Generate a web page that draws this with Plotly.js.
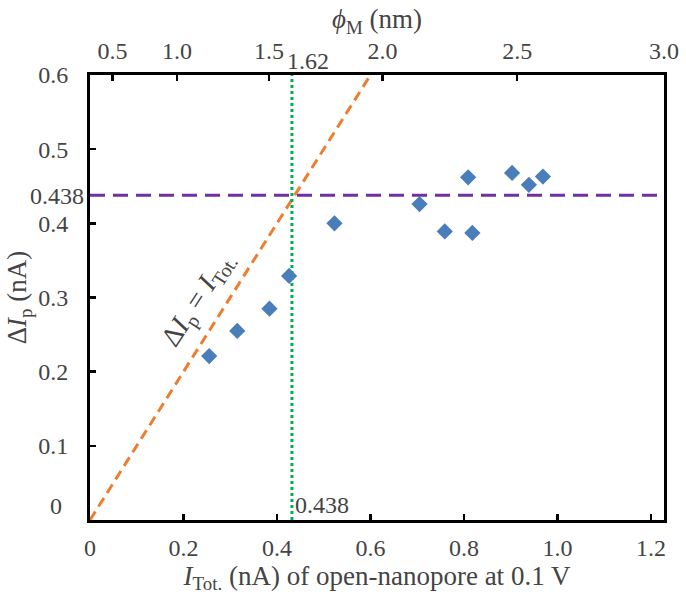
<!DOCTYPE html>
<html>
<head>
<meta charset="utf-8">
<script src="https://cdn.plot.ly/plotly-3.0.1.min.js"></script>
<style>html,body{margin:0;padding:0;background:#fff;}</style>
</head>
<body>
<div id="chart" style="width:686px;height:598px;"></div>
<script>
// Data
var iTot = [0.255, 0.315, 0.384, 0.426, 0.523, 0.705, 0.759, 0.809, 0.818, 0.903, 0.939, 0.969];
var dIp  = [0.221, 0.255, 0.285, 0.329, 0.400, 0.426, 0.389, 0.462, 0.387, 0.468, 0.452, 0.463];

var xTickVals = [0, 0.2, 0.4, 0.6, 0.8, 1.0, 1.2];
var xTickText = ['0', '0.2', '0.4', '0.6', '0.8', '1.0', '1.2'];
var yTickVals = [0.1, 0.2, 0.3, 0.4, 0.5, 0.6];
var yTickText = ['0.1', '0.2', '0.3', '0.4', '0.5', '0.6'];
// top axis: phi_M labels at their I_Tot positions
var phiTickVals = [0.048, 0.186, 0.383, 0.626, 0.914, 1.228];
var phiTickText = ['0.5', '1.0', '1.5', '2.0', '2.5', '3.0'];

var xMax = 1.228;
var yMax = 0.6;
var crossLevel = 0.438;      // horizontal reference ΔIp
var crossX = 0.432;          // vertical reference line position (labelled 0.438 / 1.62)
var identityX = [0, 0.6];
var identityY = [0, 0.6];

var fLib = 'Liberation Serif';
var ink = '#444';

var traces = [
  {x: identityX, y: identityY, type: 'scatter', mode: 'lines',
   line: {color: '#ED7D31', width: 3, dash: '10px,6px'}, hoverinfo: 'skip', cliponaxis: true},
  {x: [0, xMax], y: [crossLevel, crossLevel], type: 'scatter', mode: 'lines',
   line: {color: '#7030A0', width: 3, dash: '15px,8px'}, hoverinfo: 'skip'},
  {x: [crossX, crossX], y: [0, yMax], type: 'scatter', mode: 'lines',
   line: {color: '#00B050', width: 3, dash: '3px,3px'}, hoverinfo: 'skip'},
  {x: iTot, y: dIp, type: 'scatter', mode: 'markers',
   marker: {symbol: 'diamond', size: 12.5, color: '#4A7EBB'}},
  {x: [0, xMax], y: [0, 0], xaxis: 'x2', type: 'scatter', mode: 'markers',
   marker: {opacity: 0}, hoverinfo: 'skip'}
];

var layout = {
  width: 686, height: 598,
  margin: {l: 90, r: 22, t: 75, b: 78},
  paper_bgcolor: '#fff', plot_bgcolor: '#fff',
  showlegend: false,
  font: {family: fLib, size: 24, color: ink},
  xaxis: {
    range: [0, xMax], tickvals: xTickVals, ticktext: xTickText,
    showgrid: false, zeroline: false,
    showline: true, linewidth: 3, linecolor: '#000',
    ticks: 'inside', ticklen: 6, tickwidth: 2.5, tickcolor: '#000',
    tickfont: {family: fLib, size: 24}, ticklabelstandoff: 4,
    title: {text: '<i>I</i><sub>Tot.</sub> (nA) of open-nanopore at 0.1 V',
            font: {family: fLib, size: 27}, standoff: 2}
  },
  xaxis2: {
    overlaying: 'x', side: 'top', anchor: 'y',
    range: [0, xMax], tickvals: phiTickVals, ticktext: phiTickText,
    showgrid: false, zeroline: false,
    showline: true, linewidth: 3, linecolor: '#000',
    ticks: 'inside', ticklen: 6, tickwidth: 2.5, tickcolor: '#000',
    tickfont: {family: fLib, size: 24}, ticklabelstandoff: 3,
    title: {text: '<i>ϕ</i><sub>M</sub> (nm)', font: {family: fLib, size: 27}, standoff: 2}
  },
  yaxis: {
    range: [0, yMax], tickvals: yTickVals, ticktext: yTickText,
    showgrid: false, zeroline: false,
    showline: true, linewidth: 3, linecolor: '#000', mirror: true,
    ticks: 'inside', ticklen: 6, tickwidth: 2.5, tickcolor: '#000',
    tickfont: {family: fLib, size: 24}, ticklabelstandoff: 14,
    title: {text: 'Δ<i>I</i><sub>p</sub> (nA)', font: {family: fLib, size: 27}, standoff: 4}
  },
  annotations: [
    {text: '0', xref: 'paper', yref: 'y', x: 0, y: 0, xanchor: 'right', yanchor: 'middle',
     xshift: -26, yshift: 14, showarrow: false, font: {family: fLib, size: 24}},
    {text: '0.438', xref: 'paper', yref: 'y', x: 0, y: crossLevel, xanchor: 'right', yanchor: 'middle',
     xshift: -4, yshift: -1, showarrow: false, font: {family: fLib, size: 24}},
    {text: '0.438', xref: 'x', yref: 'paper', x: crossX, y: 0, xanchor: 'left', yanchor: 'bottom',
     xshift: 1, yshift: 0, showarrow: false, font: {family: fLib, size: 24}},
    {text: '1.62', xref: 'x', yref: 'paper', x: crossX, y: 1, xanchor: 'center', yanchor: 'bottom',
     xshift: 16, yshift: -1, showarrow: false, font: {family: fLib, size: 24}},
    {text: 'Δ<i>I</i><sub>p</sub> = <i>I</i><sub>Tot.</sub>', xref: 'x', yref: 'y', x: 0.232, y: 0.297,
     textangle: -57, showarrow: false, font: {family: fLib, size: 28}}
  ]
};

Plotly.newPlot('chart', traces, layout, {displayModeBar: false, staticPlot: true});
</script>
</body>
</html>
